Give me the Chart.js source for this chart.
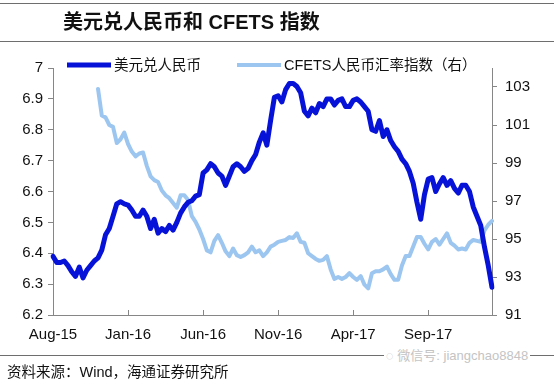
<!DOCTYPE html>
<html><head><meta charset="utf-8">
<script src="https://cdn.jsdelivr.net/npm/chart.js@4.4.1/dist/chart.umd.min.js"></script>
<style>
html,body{margin:0;padding:0;background:#fff;}
#wrap{position:relative;width:554px;height:382px;overflow:hidden;background:#fff;}
#c{position:absolute;left:0;top:0;}
.hr{position:absolute;left:0;width:554px;height:1px;background:#6e6e6e;}
#title{position:absolute;left:63px;top:8px;font:bold 20px "Liberation Sans","Noto Sans CJK SC",sans-serif;white-space:nowrap;color:#111;line-height:28px;}
#src{position:absolute;left:7px;top:361px;font:14.5px "Liberation Sans","Noto Sans CJK SC",sans-serif;white-space:nowrap;color:#111;line-height:22px;}
#wm{position:absolute;left:384px;top:347px;font:13px "Liberation Sans","Noto Sans CJK SC",sans-serif;white-space:nowrap;color:#c4c4c4;background:#fff;padding:0 2px;line-height:18px;}
</style></head>
<body><div id="wrap">
<canvas id="c" width="554" height="382"></canvas>
<div class="hr" style="top:3px"></div>
<div id="title">美元兑人民币和 CFETS 指数</div>
<div class="hr" style="top:41px"></div>
<div class="hr" style="top:355px"></div>
<div id="src">资料来源：Wind，海通证券研究所</div>
<div id="wm">◌ 微信号: jiangchao8848</div>
</div>
<script>
// ---- data (one point per ~quarter month, starting Aug-2015) ----
const seriesNames = ['美元兑人民币', 'CFETS人民币汇率指数（右）'];
const tickLabels = ['Aug-15', 'Jan-16', 'Jun-16', 'Nov-16', 'Apr-17', 'Sep-17'];
const monthNames = ['Jan','Feb','Mar','Apr','May','Jun','Jul','Aug','Sep','Oct','Nov','Dec'];
const usdcny = [
 6.39, 6.37, 6.37, 6.375, 6.36, 6.34, 6.325, 6.355, 6.32, 6.345,
 6.36, 6.375, 6.385, 6.41, 6.46, 6.48, 6.52, 6.56, 6.567, 6.56,
 6.556, 6.54, 6.52, 6.52, 6.54, 6.52, 6.48, 6.51, 6.465, 6.48,
 6.47, 6.49, 6.475, 6.50, 6.53, 6.55, 6.565, 6.57, 6.585, 6.59,
 6.66, 6.67, 6.69, 6.68, 6.66, 6.65, 6.62, 6.65, 6.68, 6.69,
 6.68, 6.665, 6.675, 6.70, 6.72, 6.76, 6.79, 6.75, 6.83, 6.905,
 6.91, 6.89, 6.93, 6.95, 6.95, 6.94, 6.92, 6.86, 6.845, 6.87,
 6.855, 6.885, 6.875, 6.90, 6.90, 6.88, 6.895, 6.90, 6.875, 6.875,
 6.895, 6.90, 6.89, 6.875, 6.86, 6.80, 6.795, 6.83, 6.778, 6.80,
 6.765, 6.745, 6.73, 6.705, 6.69, 6.665, 6.627, 6.565, 6.51, 6.59,
 6.64, 6.645, 6.60, 6.625, 6.645, 6.62, 6.635, 6.61, 6.595, 6.62,
 6.62, 6.60, 6.55, 6.52, 6.49, 6.42, 6.36, 6.29
];
const cfets = [
 null, null, null, null, null, null, null, null, null, null,
 null, null, 102.9, 101.5, 101.4, 101.0, 100.9, 100.05, 100.25, 100.6,
 100.0, 99.6, 99.35, 99.5, 99.55, 98.85, 98.3, 98.1, 98.0, 97.55,
 97.3, 97.15, 96.9, 96.65, 97.3, 97.3, 97.05, 96.2, 95.9, 95.5,
 95.0, 94.4, 94.3, 94.9, 95.2, 94.8, 94.35, 94.1, 94.5, 94.15,
 94.05, 94.15, 94.3, 94.6, 94.3, 94.4, 94.1, 94.3, 94.6, 94.7,
 94.85, 94.9, 94.95, 95.1, 95.05, 95.3, 94.85, 94.8, 94.25, 94.1,
 93.95, 93.85, 93.9, 94.1, 93.4, 92.9, 93.0, 92.9, 93.0, 93.2,
 93.0, 92.85, 93.05, 92.6, 92.4, 93.2, 93.3, 93.3, 93.4, 93.55,
 93.15, 92.85, 92.85, 93.6, 94.1, 94.1, 94.6, 95.1, 95.1, 94.75,
 94.45, 94.85, 95.0, 94.7, 95.0, 95.3, 94.8, 94.65, 94.45, 94.5,
 94.45, 94.8, 94.95, 94.9, 94.85, 95.45, 95.75, 95.95
];
const leftTicks = [6.2, 6.3, 6.4, 6.5, 6.6, 6.7, 6.8, 6.9, 7.0];
const rightTicks = [91, 93, 95, 97, 99, 101, 103];

// categories: quarter-month slots from Aug-2015
const categories = usdcny.map((_, i) => {
  const m = 7 + Math.floor(i / 4);
  return monthNames[m % 12] + '-' + (15 + Math.floor(m / 12)) + ' #' + (i % 4 + 1);
});
const labelIdx = tickLabels.map((_, k) => k * 20);

const axisColor = '#868686';
const darkBlue = '#0712D8';
const lightBlue = '#9CC6F0';
const baseFont = {family: '"Liberation Sans", Arial, sans-serif', size: 15};

const refPlugin = {
  id: 'ref',
  afterDraw(chart) {
    const ctx = chart.ctx, xs = chart.scales.x, area = chart.chartArea;
    ctx.save();
    ctx.strokeStyle = axisColor; ctx.lineWidth = 1;
    xs.ticks.forEach((t, i) => {
      const px = Math.round(xs.getPixelForTick(i)) + 0.5;
      ctx.beginPath(); ctx.moveTo(px, area.bottom); ctx.lineTo(px, area.bottom - 5); ctx.stroke();
    });
    // legend
    const pos = [67, 237];
    const y = 65;
    chart.data.datasets.forEach((ds, i) => {
      const x0 = pos[i];
      ctx.strokeStyle = ds.borderColor; ctx.lineWidth = ds.borderWidth; ctx.lineCap = 'butt';
      ctx.beginPath(); ctx.moveTo(x0, y); ctx.lineTo(x0 + 44, y); ctx.stroke();
      ctx.fillStyle = '#111';
      ctx.font = '14.5px "Liberation Sans", "Noto Sans CJK SC", sans-serif';
      ctx.textBaseline = 'middle'; ctx.textAlign = 'left';
      ctx.fillText(ds.label, x0 + 47, y + 1);
    });
    ctx.restore();
  }
};

new Chart(document.getElementById('c'), {
  type: 'line',
  data: {
    labels: categories,
    datasets: [
      {label: seriesNames[0], data: usdcny, yAxisID: 'y', borderColor: darkBlue, backgroundColor: darkBlue,
       borderWidth: 5, pointRadius: 0, tension: 0, borderJoinStyle: 'round', borderCapStyle: 'round'},
      {label: seriesNames[1], data: cfets, yAxisID: 'y1', borderColor: lightBlue, backgroundColor: lightBlue,
       borderWidth: 4, pointRadius: 0, tension: 0, borderJoinStyle: 'round', borderCapStyle: 'round'}
    ]
  },
  options: {
    responsive: false, animation: false, devicePixelRatio: 1,
    layout: {padding: {left: 0, right: 0, top: 68, bottom: 0}},
    plugins: {legend: {display: false}, tooltip: {enabled: false}, title: {display: false}},
    scales: {
      x: {
        type: 'category', offset: false,
        grid: {display: false, drawTicks: false},
        border: {display: true, color: axisColor, width: 1},
        ticks: {autoSkip: false, maxRotation: 0, minRotation: 0, padding: 11, color: '#111', font: baseFont,
                callback: (v, i) => tickLabels[i] ?? ''},
        afterBuildTicks: s => { s.ticks = labelIdx.map(v => ({value: v})); },
        afterFit: s => { s.height = 67; }
      },
      y: {
        position: 'left', min: 6.2, max: 7.0,
        grid: {drawOnChartArea: false, drawTicks: true, tickLength: 5, color: axisColor},
        border: {display: true, color: axisColor, width: 1},
        ticks: {padding: 5, color: '#111', font: baseFont, callback: v => String(+(+v).toFixed(1))},
        afterBuildTicks: s => { s.ticks = leftTicks.map(v => ({value: v})); },
        afterFit: s => { s.width = 53; }
      },
      y1: {
        position: 'right', min: 91, max: 104,
        grid: {drawOnChartArea: false, drawTicks: true, tickLength: 5, color: axisColor},
        border: {display: true, color: axisColor, width: 1},
        ticks: {padding: 8, color: '#111', font: baseFont, callback: v => String(v)},
        afterBuildTicks: s => { s.ticks = rightTicks.map(v => ({value: v})); },
        afterFit: s => { s.width = 62; }
      }
    }
  },
  plugins: [refPlugin]
});
</script>
</body></html>
